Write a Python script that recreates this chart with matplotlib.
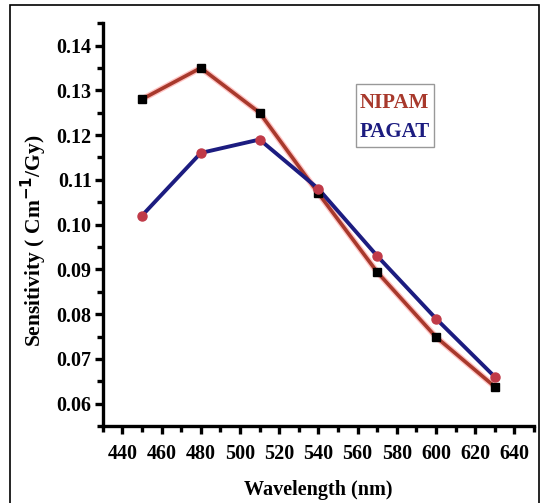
import matplotlib
matplotlib.use("Agg")
from matplotlib import pyplot as plt
from matplotlib.patches import Rectangle
from matplotlib.ticker import MultipleLocator
import matplotlib.patheffects as pe

wavelength = [450, 480, 510, 540, 570, 600, 630]
nipam = [0.128, 0.135, 0.125, 0.107, 0.0894, 0.0749, 0.0638]
pagat = [0.102, 0.116, 0.119, 0.108, 0.093, 0.079, 0.066]
series_names = ["NIPAM", "PAGAT"]

red = "#a8392c"
navy = "#1c1c80"
dot = "#c03a48"

plt.rcParams["font.family"] = ["Liberation Serif", "DejaVu Serif"]
plt.rcParams["font.weight"] = "bold"


def main():
    fig = plt.figure(figsize=(5.41, 5.03), dpi=100)
    ax = fig.add_axes([0.190, 0.153, 0.797, 0.801])

    ax.plot(wavelength, nipam, "-", color=red, lw=2.6, zorder=3,
            path_effects=[pe.Stroke(linewidth=4.5, foreground="#ffc4c4"), pe.Normal()])
    ax.plot(wavelength, nipam, "s", color="black", ms=6, zorder=5)
    ax.plot(wavelength, pagat, "-", color=navy, lw=2.8, zorder=4)
    ax.plot(wavelength, pagat, "o", color=dot, ms=6.5, zorder=5)

    ax.set_xlim(430, 650)
    ax.set_ylim(0.055, 0.145)
    ax.xaxis.set_major_locator(MultipleLocator(20))
    ax.xaxis.set_minor_locator(MultipleLocator(10))
    ax.yaxis.set_major_locator(MultipleLocator(0.01))
    ax.yaxis.set_minor_locator(MultipleLocator(0.005))
    ax.yaxis.set_major_formatter(plt.FormatStrFormatter("%.2f"))

    for s in ["top", "right"]:
        ax.spines[s].set_visible(False)
    for s in ["left", "bottom"]:
        ax.spines[s].set_linewidth(2.4)
    ax.tick_params(which="major", length=6, width=2.4, labelsize=14.5)
    ax.tick_params(which="minor", length=4, width=2.4)
    ax.tick_params(axis="x", which="major", pad=7)
    ax.tick_params(axis="y", which="major", pad=2)

    ax.set_xlabel("Wavelength (nm)", fontsize=14.5, fontweight="bold")
    ax.xaxis.set_label_coords(0.5, -0.135)
    ax.set_ylabel("Sensitivity ( Cm$^{\\mathbf{-1}}$/Gy)", fontsize=15.5,
                  fontweight="bold")
    ax.yaxis.set_label_coords(-0.125, 0.46)

    # legend box with coloured labels only
    ax.add_patch(Rectangle((0.587, 0.692), 0.181, 0.157, transform=ax.transAxes,
                           fill=False, edgecolor="#999999", lw=1.0, zorder=6))
    ax.text(0.677, 0.801, series_names[0], color=red, fontsize=15,
            fontweight="bold", ha="center", va="center", transform=ax.transAxes)
    ax.text(0.677, 0.730, series_names[1], color=navy, fontsize=15,
            fontweight="bold", ha="center", va="center", transform=ax.transAxes)

    fig.patches.append(Rectangle((10 / 541, -0.01), 529 / 541, 1.0 - 5 / 503 + 0.01,
                                 transform=fig.transFigure, fill=False,
                                 edgecolor="black", lw=1.2))

    plt.savefig("out.png", dpi=100)


if __name__ == '__main__':
    main()
